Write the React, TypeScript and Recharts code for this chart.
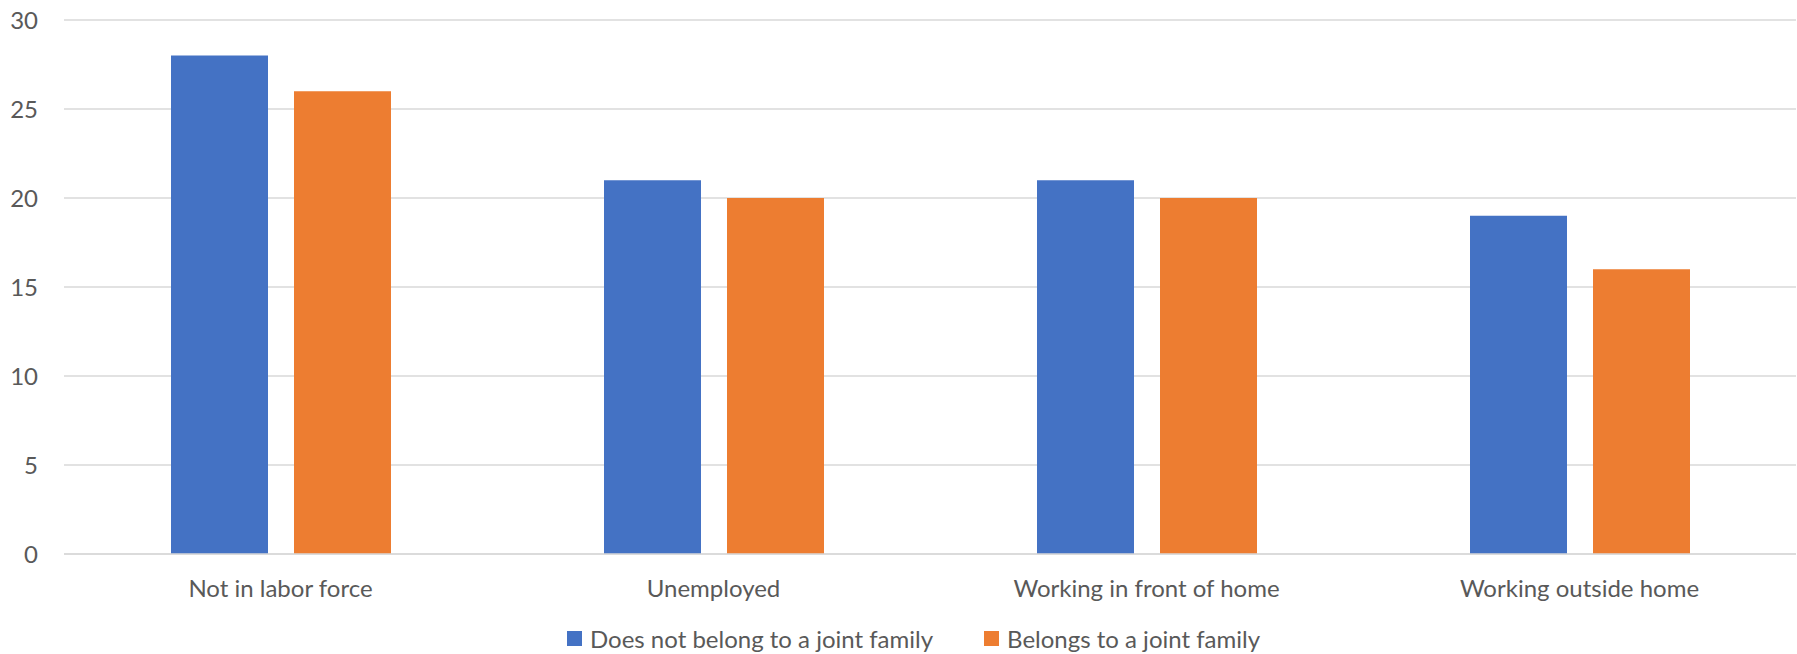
import { BarChart, Bar, XAxis, YAxis, CartesianGrid, Legend } from 'recharts';

const categories = ['Not in labor force', 'Unemployed', 'Working in front of home', 'Working outside home'];
const notJoint = [28, 21, 21, 19];
const joint = [26, 20, 20, 16];
const yTicks = [0, 5, 10, 15, 20, 25, 30];

const seriesNames = ['Does not belong to a joint family', 'Belongs to a joint family'];
const colors = ['#4472C4', '#ED7D31'];

const data = categories.map((c, i) => ({ name: c, notJoint: notJoint[i], joint: joint[i] }));

const textColor = '#595959';

function LegendRow({ payload }: any) {
  // keep series order, recharts sorts the payload by name
  const items = [...(payload || [])].sort((a: any, b: any) => seriesNames.indexOf(a.value) - seriesNames.indexOf(b.value));
  return (
    <div style={{ display: 'flex', justifyContent: 'center', gap: 51, paddingLeft: 30, fontSize: 24, color: textColor }}>
      {items.map((p: any) => (
        <div key={p.value} style={{ display: 'flex', alignItems: 'center', gap: 8 }}>
          <span style={{ width: 15, height: 15, background: p.color, display: 'inline-block' }}></span>
          <span>{p.value}</span>
        </div>
      ))}
    </div>
  );
}

export default function App() {
  return (
    <div style={{ position: 'absolute', left: 0, top: 0, width: 1797, height: 654, background: '#fff', fontFamily: 'Lato, sans-serif' }}>
      <BarChart width={1797} height={654} data={data} margin={{ top: 20, right: 1, left: 0, bottom: 50 }} barSize={97} barGap={26}>
        <CartesianGrid vertical={false} stroke="#d9d9d9" strokeWidth={1.5} />
        <XAxis dataKey="name" height={50} axisLine={{ stroke: '#d9d9d9', strokeWidth: 1.5 }} tickLine={false}
          tickMargin={20} tick={{ fill: textColor, fontSize: 24 }} interval={0} />
        <YAxis width={64} domain={[0, 30]} ticks={yTicks} axisLine={false} tickLine={false}
          tickMargin={20} tick={{ fill: textColor, fontSize: 24 }} />
        <Legend verticalAlign="middle" align="center" layout="horizontal" content={<LegendRow />}
          wrapperStyle={{ top: 624, left: 0, width: 1797 }} />
        <Bar dataKey="notJoint" name={seriesNames[0]} fill={colors[0]} isAnimationActive={false} />
        <Bar dataKey="joint" name={seriesNames[1]} fill={colors[1]} isAnimationActive={false} />
      </BarChart>
    </div>
  );
}
